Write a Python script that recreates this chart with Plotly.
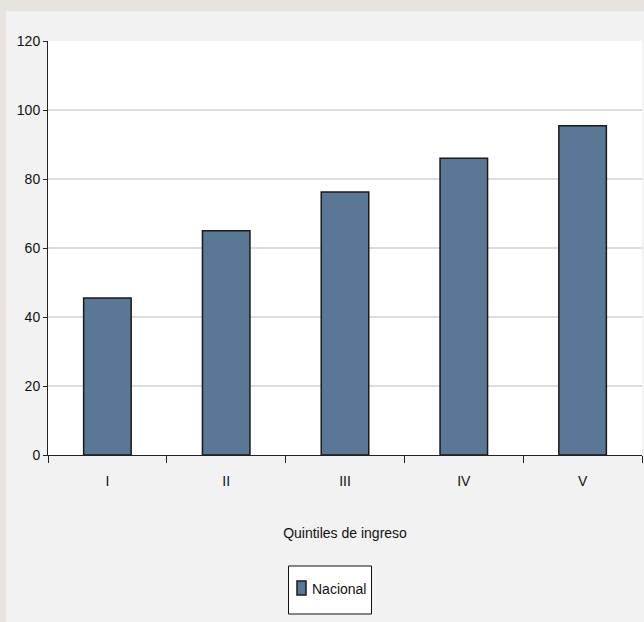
import plotly.graph_objects as go

categories = ["I", "II", "III", "IV", "V"]
nacional = [45.5, 65.0, 76.2, 86.0, 95.4]
y_ticks = [0, 20, 40, 60, 80, 100, 120]
series_name = "Nacional"
x_title = "Quintiles de ingreso"

FONT = "Liberation Sans Narrow, Arial Narrow, Liberation Sans, Arial, sans-serif"
BAR = "#5a7795"
EDGE = "#1a1a1a"
FS = 14

fig = go.Figure()
fig.add_trace(go.Bar(
    x=categories, y=nacional, name=series_name,
    marker=dict(color=BAR, line=dict(color=EDGE, width=1.5)),
    showlegend=False,
))

W, H = 644, 622
L, R, T, B = 48, 2, 41, 167
pw, ph = W - L - R, H - T - B

def px2x(px):
    return (px - L) / pw

def px2y(py):
    return (H - B - py) / ph

shapes = [
    # outer frame strips
    dict(type="rect", xref="paper", yref="paper", x0=px2x(0), x1=px2x(W), y0=px2y(0), y1=px2y(11),
         fillcolor="#e7e3df", line=dict(width=0), layer="below"),
    dict(type="rect", xref="paper", yref="paper", x0=px2x(0), x1=px2x(6), y0=px2y(0), y1=px2y(H),
         fillcolor="#e7e3df", line=dict(width=0), layer="below"),
    # legend box
    dict(type="rect", xref="paper", yref="paper", x0=px2x(288.5), x1=px2x(371.5),
         y0=px2y(614), y1=px2y(566), fillcolor="#ffffff", line=dict(color="#111111", width=1)),
    # legend swatch
    dict(type="rect", xref="paper", yref="paper", x0=px2x(297), x1=px2x(306),
         y0=px2y(595), y1=px2y(581), fillcolor=BAR, line=dict(color=EDGE, width=1.5)),
]

annotations = [
    dict(text=series_name, xref="paper", yref="paper", x=px2x(309.5), y=px2y(588.5),
         xanchor="left", yanchor="middle", showarrow=False,
         font=dict(family=FONT, size=FS, color="#111111")),
]

fig.update_layout(
    width=W, height=H,
    margin=dict(l=L, r=R, t=T, b=B, pad=0),
    paper_bgcolor="#f2f2f2",
    plot_bgcolor="#ffffff",
    font=dict(family=FONT, size=FS, color="#111111"),
    bargap=0.6,
    shapes=shapes,
    annotations=annotations,
    showlegend=False,
    xaxis=dict(
        type="category",
        tickson="boundaries",
        ticks="outside", ticklen=7, tickcolor="#222222", tickwidth=1,
        ticklabelstandoff=13,
        showline=True, linecolor="#222222", linewidth=1,
        showgrid=False, zeroline=False,
        title=dict(text=x_title, standoff=40, font=dict(family=FONT, size=FS)),
        tickfont=dict(family=FONT, size=FS),
    ),
    yaxis=dict(
        range=[0, 120],
        tickvals=y_ticks, ticktext=[str(v) for v in y_ticks],
        ticks="outside", ticklen=4, tickcolor="#222222", tickwidth=1,
        showline=True, linecolor="#222222", linewidth=1,
        showgrid=True, gridcolor="#dcdcdc", gridwidth=2,
        zeroline=False,
        tickfont=dict(family=FONT, size=FS),
    ),
)

fig.write_html("out.html", config={"displayModeBar": False},
               post_script="document.body.style.margin='0';document.body.style.padding='0';")
